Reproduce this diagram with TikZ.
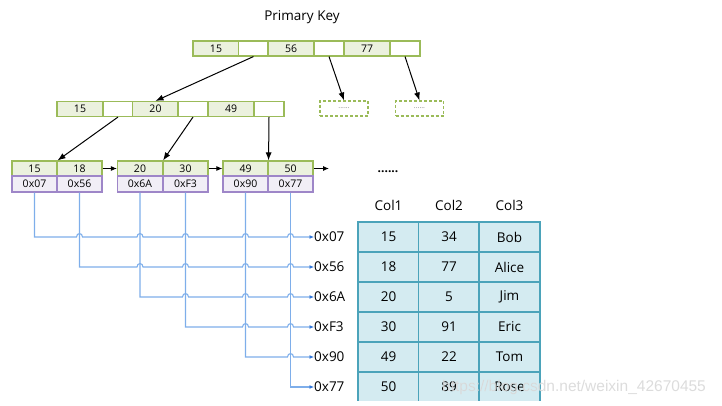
\documentclass[tikz,border=0pt]{standalone}
\usepackage{fontspec}
\setmainfont{Open Sans}
\newfontfamily\wmfont{Liberation Sans}
\usetikzlibrary{arrows.meta,calc}
\definecolor{kgreen}{HTML}{9BBB59}
\definecolor{kfill}{HTML}{EBF1DE}
\definecolor{ppur}{HTML}{9E86C8}
\definecolor{pfill}{HTML}{F1EEF6}
\definecolor{bline}{HTML}{7EAEEA}
\definecolor{btip}{HTML}{2F74D8}
\definecolor{tfill}{HTML}{D4EBF1}
\definecolor{tline}{HTML}{4BA3BA}
\tikzset{
  key/.style={draw=kgreen,fill=kfill,line width=1.1pt,minimum width=46pt,minimum height=15pt,inner sep=0pt,font=\fontsize{10.5}{12}\selectfont},
  blank/.style={draw=kgreen,fill=white,line width=1.1pt,minimum width=30pt,minimum height=15pt,inner sep=0pt},
  lkey/.style={key,minimum width=45pt},
  ptr/.style={draw=ppur,fill=pfill,line width=1.1pt,minimum width=45pt,minimum height=16pt,inner sep=0pt,font=\fontsize{10.5}{12}\selectfont},
  dbox/.style={draw=kgreen,densely dashed,line width=1.1pt,minimum width=48pt,minimum height=15pt,inner sep=0pt,font=\fontsize{7}{8}\selectfont,text=gray},
  barrow/.style={-{Latex[length=8pt,width=6pt]},line width=1pt,black},
  bl/.style={bline,line width=1.1pt,arrows={-{Latex[length=4.5pt,width=4pt,color=btip]}}},
  addr/.style={anchor=west,inner sep=0pt,font=\fontsize{13.5}{15}\selectfont},
  tcell/.style={draw=tline,fill=tfill,line width=1.5pt,minimum width=61pt,minimum height=30pt,inner sep=0pt,font=\fontsize{13.5}{15}\selectfont},
  head/.style={font=\fontsize{13.5}{15}\selectfont,inner sep=0pt}
}
\begin{document}
\begin{tikzpicture}[x=1pt,y=-1pt]
\useasboundingbox (0,0) rectangle (722,406);
\clip (0,0) rectangle (722,406);
% title
\node[font=\fontsize{13.5}{15}\selectfont] (title) at (302,17) {Primary Key};
% root
\node[key] (r1) at (216,48.5) {15};
\node[blank] (r2) at (253.5,48.5) {};
\node[key] (r3) at (291,48.5) {56};
\node[blank] (r4) at (329,48.5) {};
\node[key] (r5) at (367,48.5) {77};
\node[blank] (r6) at (405,48.5) {};
% level 2
\node[key] (m1) at (80,109) {15};
\node[blank] (m2) at (118,109) {};
\node[key] (m3) at (155.5,109) {20};
\node[blank] (m4) at (193,109) {};
\node[key] (m5) at (231,109) {49};
\node[blank] (m6) at (269,109) {};
% dashed boxes
\node[dbox] (d1) at (344,108.5) {......};
\node[dbox] (d2) at (419.5,108.5) {......};
% leaves
\node[lkey] (k1) at (34.5,168.5) {15};
\node[lkey] (k2) at (79.5,168.5) {18};
\node[lkey] (k3) at (140,168.5) {20};
\node[lkey] (k4) at (185.5,168.5) {30};
\node[lkey] (k5) at (245.5,168.5) {49};
\node[lkey] (k6) at (290.5,168.5) {50};
\node[ptr] (p1) at (34.5,184) {0x07};
\node[ptr] (p2) at (79.5,184) {0x56};
\node[ptr] (p3) at (140,184) {0x6A};
\node[ptr] (p4) at (185.5,184) {0xF3};
\node[ptr] (p5) at (245.5,184) {0x90};
\node[ptr] (p6) at (290.5,184) {0x77};
\coordinate (lend) at (329,168.5);
\node[font=\fontsize{12}{14}\selectfont\bfseries] (dots) at (388,172) {......};
% tree arrows
\draw[barrow] (r2.south) -- (m3.north);
\draw[barrow] (r4.south) -- (d1.north);
\draw[barrow] (r6.south) -- (d2.north);
\draw[barrow] (m2.south) -- (k1.north east);
\draw[barrow] (m4.south) -- (k3.north east);
\draw[barrow] (m6.south) -- (k5.north east);
\draw[barrow,-{Latex[length=6pt,width=5pt]}] (k2.east) -- (k3.west);
\draw[barrow,-{Latex[length=6pt,width=5pt]}] (k4.east) -- (k5.west);
\draw[barrow,-{Latex[length=6pt,width=5pt]}] (k6.east) -- (lend);
% address labels
\node[addr] (a1) at (314,237) {0x07};
\node[addr] (a2) at (314,267) {0x56};
\node[addr] (a3) at (314,297) {0x6A};
\node[addr] (a4) at (314,327) {0xF3};
\node[addr] (a5) at (314,357) {0x90};
\node[addr] (a6) at (314,387) {0x77};
% blue connectors with line hops
\def\hop#1#2{-- (#1-3,#2) .. controls (#1-3,#2-4.5) and (#1+3,#2-4.5) .. (#1+3,#2)}
\draw[bl] (p1.south) -- (34.5,237) \hop{79.5}{237} \hop{140}{237} \hop{185.5}{237} \hop{245.5}{237} \hop{290.5}{237} -- (a1.west);
\draw[bl] (p2.south) -- (79.5,267) \hop{140}{267} \hop{185.5}{267} \hop{245.5}{267} \hop{290.5}{267} -- (a2.west);
\draw[bl] (p3.south) -- (140,297) \hop{185.5}{297} \hop{245.5}{297} \hop{290.5}{297} -- (a3.west);
\draw[bl] (p4.south) -- (185.5,327) \hop{245.5}{327} \hop{290.5}{327} -- (a4.west);
\draw[bl] (p5.south) -- (245.5,357) \hop{290.5}{357} -- (a5.west);
\draw[bl] (p6.south) -- (290.5,387) -- (a6.west);
% table headers
\node[head] (h1) at (388.5,205) {Col1};
\node[head] (h2) at (449,205) {Col2};
\node[head] (h3) at (509.5,205) {Col3};
% table (cut off at the bottom like the reference)
\begin{scope}
\clip (340,200) rectangle (560,400);
\node[tcell] (t11) at (388.5,237) {15};
\node[tcell] (t12) at (449,237) {34};
\node[tcell] (t13) at (509.5,237) {Bob};
\node[tcell] (t21) at (388.5,267) {18};
\node[tcell] (t22) at (449,267) {77};
\node[tcell] (t23) at (509.5,267) {Alice};
\node[tcell] (t31) at (388.5,297) {20};
\node[tcell] (t32) at (449,297) {5};
\node[tcell] (t33) at (509.5,297) {Jim};
\node[tcell] (t41) at (388.5,327) {30};
\node[tcell] (t42) at (449,327) {91};
\node[tcell] (t43) at (509.5,327) {Eric};
\node[tcell] (t51) at (388.5,357) {49};
\node[tcell] (t52) at (449,357) {22};
\node[tcell] (t53) at (509.5,357) {Tom};
\node[tcell,minimum height=40pt] (t61) at (388.5,392) {\raisebox{10pt}{50}};
\node[tcell,minimum height=40pt] (t62) at (449,392) {\raisebox{10pt}{89}};
\node[tcell,minimum height=40pt] (t63) at (509.5,392) {\raisebox{10pt}{Rose}};
\end{scope}
% watermark
\node[font=\wmfont\fontsize{15.5}{17}\selectfont,text=white,opacity=0.75,anchor=west,inner sep=0pt] (wm) at (442,387) {https://blog.csdn.net/weixin\_42670455};
\node[font=\wmfont\fontsize{15.5}{17}\selectfont,text=gray!60,opacity=0.45,anchor=west,inner sep=0pt] (wm2) at (442,387) {https://blog.csdn.net/weixin\_42670455};
\end{tikzpicture}
\end{document}
